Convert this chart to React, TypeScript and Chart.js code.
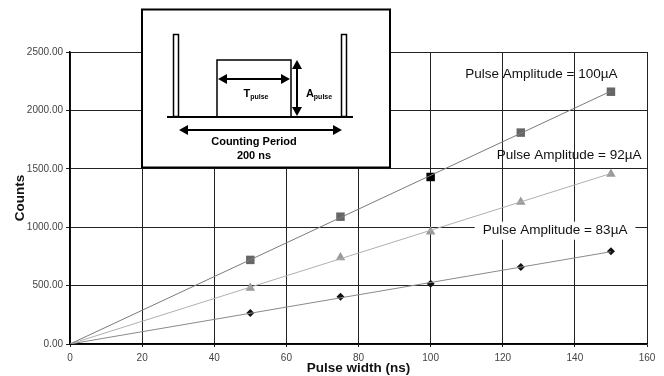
import React, { useEffect, useRef } from "react";
import { Chart, registerables } from "chart.js";

Chart.register(...registerables);

// ---- data ----
const pulseWidths = [50, 75, 100, 125, 150];
const counts100 = [720, 1090, 1430, 1810, 2160];
const counts92 = [480, 740, 960, 1215, 1455];
const counts83 = [265, 405, 515, 660, 795];

const trendX = [0, 150];
const trend100 = [0, 2165];
const trend92 = [0, 1460];
const trend83 = [0, 790];

const xMin = 0;
const xMax = 160;
const xStep = 20;
const yMin = 0;
const yMax = 2500;
const yStep = 500;

const seriesLabels = [
  "Pulse Amplitude = 100\u00B5A",
  "Pulse Amplitude = 92\u00B5A",
  "Pulse Amplitude = 83\u00B5A",
];
const labelX = [130.7, 138.4, 134.5];
const labelY = [2312, 1618, 970];
const labelBg = [false, false, true];

const FONT = '"Liberation Sans", Arial, Helvetica, sans-serif';

function arrowHead(ctx: CanvasRenderingContext2D, x: number, y: number, dir: "l" | "r" | "u" | "d") {
  const L = 9, W = 5;
  ctx.beginPath();
  if (dir === "l") { ctx.moveTo(x, y); ctx.lineTo(x + L, y - W); ctx.lineTo(x + L, y + W); }
  if (dir === "r") { ctx.moveTo(x, y); ctx.lineTo(x - L, y - W); ctx.lineTo(x - L, y + W); }
  if (dir === "u") { ctx.moveTo(x, y); ctx.lineTo(x - W, y + L); ctx.lineTo(x + W, y + L); }
  if (dir === "d") { ctx.moveTo(x, y); ctx.lineTo(x - W, y - L); ctx.lineTo(x + W, y - L); }
  ctx.closePath();
  ctx.fill();
}

function line(ctx: CanvasRenderingContext2D, x1: number, y1: number, x2: number, y2: number) {
  ctx.beginPath();
  ctx.moveTo(x1, y1);
  ctx.lineTo(x2, y2);
  ctx.stroke();
}

function subText(ctx: CanvasRenderingContext2D, main: string, sub: string, cx: number, cy: number) {
  ctx.font = `bold 11px ${FONT}`;
  const w1 = ctx.measureText(main).width;
  ctx.font = `bold 7px ${FONT}`;
  const w2 = ctx.measureText(sub).width;
  const start = cx - (w1 + w2) / 2;
  ctx.textAlign = "left";
  ctx.textBaseline = "middle";
  ctx.font = `bold 11px ${FONT}`;
  ctx.fillText(main, start, cy);
  ctx.font = `bold 7px ${FONT}`;
  ctx.fillText(sub, start + w1, cy + 3);
}

const overlayPlugin = {
  id: "overlay",
  afterDatasetsDraw(chart: any) {
    const ctx: CanvasRenderingContext2D = chart.ctx;
    const xs = chart.scales.x;
    const ys = chart.scales.y;
    ctx.save();
    // series labels
    ctx.font = `13.5px ${FONT}`;
    ctx.textAlign = "center";
    ctx.textBaseline = "middle";
    seriesLabels.forEach((t, i) => {
      const px = xs.getPixelForValue(labelX[i]);
      const py = ys.getPixelForValue(labelY[i]);
      if (labelBg[i]) {
        const w = ctx.measureText(t).width;
        ctx.fillStyle = "#ffffff";
        ctx.fillRect(px - w / 2 - 8, py - 9, w + 16, 18);
      }
      ctx.fillStyle = "#111111";
      ctx.fillText(t, px, py);
    });

    // inset diagram
    ctx.fillStyle = "#ffffff";
    ctx.fillRect(142, 9.5, 248, 158);
    ctx.strokeStyle = "#000000";
    ctx.lineWidth = 2;
    ctx.strokeRect(142, 9.5, 248, 158);

    ctx.fillStyle = "#000000";
    ctx.lineWidth = 2;
    line(ctx, 167, 117, 353, 117);
    ctx.lineWidth = 1.5;
    ctx.strokeRect(173.5, 34.5, 5, 82);
    ctx.strokeRect(341.5, 34.5, 5, 82);
    ctx.strokeRect(217, 60, 74, 57);

    ctx.lineWidth = 2;
    line(ctx, 222, 79, 286, 79);
    arrowHead(ctx, 218, 79, "l");
    arrowHead(ctx, 290, 79, "r");

    line(ctx, 297, 65, 297, 112);
    arrowHead(ctx, 297, 60, "u");
    arrowHead(ctx, 297, 116, "d");

    line(ctx, 184, 130, 337, 130);
    arrowHead(ctx, 179, 130, "l");
    arrowHead(ctx, 342, 130, "r");

    subText(ctx, "T", "pulse", 256, 94);
    subText(ctx, "A", "pulse", 319, 94);

    ctx.font = `bold 11px ${FONT}`;
    ctx.textAlign = "center";
    ctx.textBaseline = "middle";
    ctx.fillText("Counting Period", 254, 142);
    ctx.fillText("200 ns", 254, 156);
    ctx.restore();
  },
};

const toXY = (xs: number[], ys: number[]) => xs.map((x, i) => ({ x, y: ys[i] }));

export default function App() {
  const ref = useRef<HTMLCanvasElement | null>(null);

  useEffect(() => {
    document.body.style.margin = "0";
    const canvas = ref.current;
    if (!canvas) return;
    const chart = new Chart(canvas, {
      type: "scatter",
      data: {
        datasets: [
          {
            label: "trend100",
            data: toXY(trendX, trend100),
            showLine: true,
            borderColor: "#7a7a7a",
            borderWidth: 1,
            pointRadius: 0,
          },
          {
            label: "trend92",
            data: toXY(trendX, trend92),
            showLine: true,
            borderColor: "#b0b0b0",
            borderWidth: 1,
            pointRadius: 0,
          },
          {
            label: "trend83",
            data: toXY(trendX, trend83),
            showLine: true,
            borderColor: "#8a8a8a",
            borderWidth: 1,
            pointRadius: 0,
          },
          {
            label: seriesLabels[0],
            data: toXY(pulseWidths, counts100),
            pointStyle: "rect",
            pointRadius: 6,
            pointBackgroundColor: pulseWidths.map((x) => (x === 100 ? "#000000" : "#666666")),
            pointBorderColor: pulseWidths.map((x) => (x === 100 ? "#000000" : "#666666")),
            pointBorderWidth: 0,
          },
          {
            label: seriesLabels[1],
            data: toXY(pulseWidths, counts92),
            pointStyle: "triangle",
            pointRadius: 5.5,
            pointBackgroundColor: "#9a9a9a",
            pointBorderColor: "#9a9a9a",
            pointBorderWidth: 0,
          },
          {
            label: seriesLabels[2],
            data: toXY(pulseWidths, counts83),
            pointStyle: "rectRot",
            pointRadius: 4,
            pointBackgroundColor: "#111111",
            pointBorderColor: "#111111",
            pointBorderWidth: 0,
          },
        ],
      },
      options: {
        animation: false,
        responsive: false,
        layout: { padding: { top: 52, right: 17, left: 0, bottom: 0 } },
        plugins: { legend: { display: false }, tooltip: { enabled: false } },
        scales: {
          x: {
            type: "linear",
            min: xMin,
            max: xMax,
            ticks: {
              stepSize: xStep,
              color: "#444444",
              font: { family: FONT, size: 10 },
              padding: 5,
            },
            grid: { color: "#222222", lineWidth: 1, tickLength: 3, drawTicks: true },
            border: { color: "#000000", width: 1.5 },
            title: {
              display: true,
              text: "Pulse width (ns)",
              color: "#111111",
              font: { family: FONT, size: 13.5, weight: "bold" },
              padding: { top: 0, bottom: 0 },
            },
            afterFit: (scale: any) => {
              scale.height = 32;
            },
          },
          y: {
            type: "linear",
            min: yMin,
            max: yMax,
            ticks: {
              stepSize: yStep,
              color: "#444444",
              font: { family: FONT, size: 10 },
              padding: 3,
              callback: (v: any) => Number(v).toFixed(2),
            },
            grid: { color: "#222222", lineWidth: 1, tickLength: 4 },
            border: { color: "#000000", width: 1.5 },
            title: {
              display: true,
              text: "Counts",
              color: "#111111",
              font: { family: FONT, size: 13.5, weight: "bold" },
              padding: { top: 12, bottom: 0 },
            },
            afterFit: (scale: any) => {
              scale.width = 70;
            },
          },
        },
      },
      plugins: [overlayPlugin],
    } as any);
    return () => chart.destroy();
  }, []);

  return (
    <div style={{ width: 664, height: 376, background: "#ffffff" }}>
      <canvas ref={ref} width={664} height={376} style={{ display: "block" }} />
    </div>
  );
}
